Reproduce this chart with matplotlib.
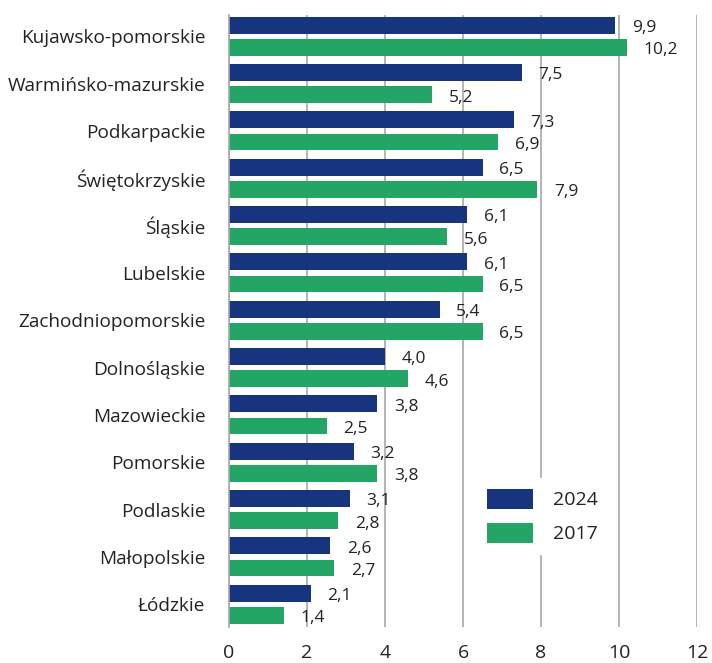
import matplotlib
matplotlib.use("Agg")
import matplotlib.pyplot as plt
import numpy as np

regions = ["Kujawsko-pomorskie", "Warmińsko-mazurskie", "Podkarpackie", "Świętokrzyskie",
           "Śląskie", "Lubelskie", "Zachodniopomorskie", "Dolnośląskie", "Mazowieckie",
           "Pomorskie", "Podlaskie", "Małopolskie", "Łódzkie"]
v2024 = [9.9, 7.5, 7.3, 6.5, 6.1, 6.1, 5.4, 4.0, 3.8, 3.2, 3.1, 2.6, 2.1]
v2017 = [10.2, 5.2, 6.9, 7.9, 5.6, 6.5, 6.5, 4.6, 2.5, 3.8, 2.8, 2.7, 1.4]
xticks = [0, 2, 4, 6, 8, 10, 12]

plt.rcParams['font.family'] = ['Open Sans', 'DejaVu Sans']
blue = "#17347f"
green = "#23a566"
grid = "#a8a8a8"
txt = "#222222"

fig = plt.figure(figsize=(7.12, 6.63), dpi=100)
ax = fig.add_axes([229/712, 1-627/663, (697-229)/712, (627-15)/663])

y = np.arange(len(regions))
h = 0.355
off = 0.235
ax.barh(y - off, v2024, height=h, color=blue, label="2024", zorder=2)
ax.barh(y + off, v2017, height=h, color=green, label="2017", zorder=2)

fmt = lambda v: f"{v:.1f}".replace(".", ",")
for yi, a, b in zip(y, v2024, v2017):
    ax.annotate(fmt(a), (a, yi - off), xytext=(12, -2), textcoords="offset points",
                va="center", ha="left", fontsize=12.5, color=txt)
    ax.annotate(fmt(b), (b, yi + off), xytext=(12, -2), textcoords="offset points",
                va="center", ha="left", fontsize=12.5, color=txt)

ax.set_xlim(0, 12)
ax.set_ylim(12.48, -0.45)
ax.set_xticks(xticks)
ax.set_xticklabels([str(t) for t in xticks], fontsize=14, color=txt)
ax.set_yticks(y)
ax.set_yticklabels(regions, fontsize=13.7, color=txt)
ax.tick_params(axis="x", length=0, pad=12)
ax.tick_params(axis="y", length=0, pad=17)
for s in ["top", "right", "bottom"]:
    ax.spines[s].set_visible(False)
ax.spines["left"].set_color(grid)
ax.spines["left"].set_linewidth(1.2)
ax.xaxis.grid(True, color=grid, linewidth=1.2, zorder=0)
ax.set_axisbelow(True)

leg = ax.legend(loc="upper left", bbox_to_anchor=(476/712, 1-478/663),
                bbox_transform=fig.transFigure, frameon=True, fontsize=14,
                handlelength=2.4, handleheight=1.2, handletextpad=1.0,
                labelspacing=0.7, borderpad=0.55, borderaxespad=0, fancybox=False)
leg.get_frame().set_edgecolor("white")
leg.get_frame().set_facecolor("white")
leg.get_frame().set_alpha(1)
for t in leg.get_texts():
    t.set_color(txt)

fig.savefig("out.png", dpi=100)
